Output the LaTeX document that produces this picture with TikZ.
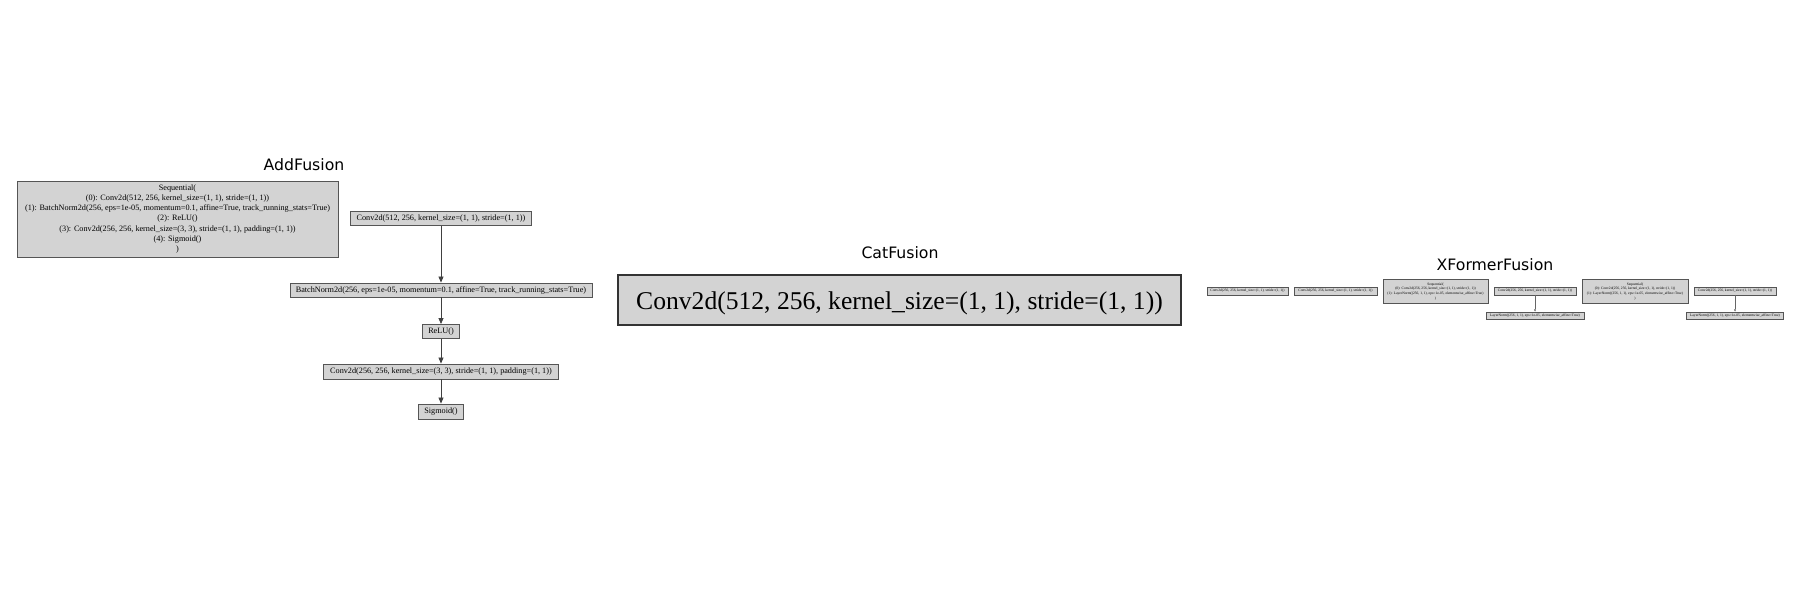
\documentclass[tikz,border=0pt]{standalone}
\usepackage{fontspec}
\setmainfont{Liberation Serif}
\newfontfamily\titlefont{DejaVu Sans}
\usetikzlibrary{arrows.meta}
\definecolor{boxfill}{HTML}{D3D3D3}
\definecolor{boxline}{HTML}{555555}
\tikzset{
  paneltitle/.style={font=\titlefont\fontsize{15.7}{18}\selectfont, inner sep=0pt},
  gbox/.style={draw=boxline, fill=boxfill, line width=0.9pt, inner sep=0pt, align=center,
    font=\fontsize{8.2}{10.2}\selectfont},
  bigbox/.style={draw=black!80, fill=boxfill, line width=2.6pt, inner sep=0pt,
    font=\fontsize{25.6}{30}\selectfont, text height=24pt, text depth=4.5pt},
  tinybox/.style={draw=boxline, fill=boxfill, line width=0.45pt, inner sep=0pt, align=center,
    font=\fontsize{3.6}{4.8}\selectfont},
  flow/.style={draw=black!75, line width=0.8pt, -{Triangle[length=6pt,width=5pt]}},
  tinyflow/.style={draw=black!60, line width=0.35pt, -{Triangle[length=2.2pt,width=2pt]}}
}
\begin{document}
\begin{tikzpicture}[x=1pt,y=-1pt]
\useasboundingbox (0,0) rectangle (1800,600);
% ---------- AddFusion ----------
\node[paneltitle] (t1) at (304,165) {AddFusion};
\node[gbox, minimum width=321pt, minimum height=76pt] (seq) at (177.5,219)
  {Sequential(\\
   (0): Conv2d(512, 256, kernel\_size=(1, 1), stride=(1, 1))\\
   (1): BatchNorm2d(256, eps=1e-05, momentum=0.1, affine=True, track\_running\_stats=True)\\
   (2): ReLU()\\
   (3): Conv2d(256, 256, kernel\_size=(3, 3), stride=(1, 1), padding=(1, 1))\\
   (4): Sigmoid()\\
   )};
\node[gbox, minimum width=181pt, minimum height=14pt] (c1) at (441,218.5)
  {Conv2d(512, 256, kernel\_size=(1, 1), stride=(1, 1))};
\node[gbox, minimum width=302pt, minimum height=14pt] (bn) at (441,290)
  {BatchNorm2d(256, eps=1e-05, momentum=0.1, affine=True, track\_running\_stats=True)};
\node[gbox, minimum width=37pt, minimum height=14pt] (relu) at (441,331.5) {ReLU()};
\node[gbox, minimum width=235pt, minimum height=15pt] (c2) at (441,371.5)
  {Conv2d(256, 256, kernel\_size=(3, 3), stride=(1, 1), padding=(1, 1))};
\node[gbox, minimum width=45pt, minimum height=15pt] (sig) at (441,411.5) {Sigmoid()};
\draw[flow] (c1) -- (bn);
\draw[flow] (bn) -- (relu);
\draw[flow] (relu) -- (c2);
\draw[flow] (c2) -- (sig);
% ---------- CatFusion ----------
\node[paneltitle] (t2) at (900,253) {CatFusion};
\node[bigbox, minimum width=563pt, minimum height=50pt] (cat) at (899.5,300)
  {Conv2d(512, 256, kernel\_size=(1, 1), stride=(1, 1))};
% ---------- XFormerFusion ----------
\node[paneltitle] (t3) at (1495,265) {XFormerFusion};
\node[tinybox, minimum width=81pt, minimum height=7.5pt] (x1) at (1247.5,291)
  {Conv2d(256, 256, kernel\_size=(1, 1), stride=(1, 1))};
\node[tinybox, minimum width=83pt, minimum height=7.5pt] (x2) at (1335.5,291)
  {Conv2d(256, 256, kernel\_size=(1, 1), stride=(1, 1))};
\node[tinybox, minimum width=105pt, minimum height=24pt] (s1) at (1435.5,291.5)
  {Sequential(\\
   (0): Conv2d(256, 256, kernel\_size=(1, 1), stride=(1, 1))\\
   (1): LayerNorm((256, 1, 1), eps=1e-05, elementwise\_affine=True)\\
   )};
\node[tinybox, minimum width=82pt, minimum height=7.5pt] (x3) at (1535,291)
  {Conv2d(256, 256, kernel\_size=(1, 1), stride=(1, 1))};
\node[tinybox, minimum width=98pt, minimum height=7.5pt] (l1) at (1535,315.5)
  {LayerNorm((256, 1, 1), eps=1e-05, elementwise\_affine=True)};
\node[tinybox, minimum width=106pt, minimum height=24pt] (s2) at (1635,291.5)
  {Sequential(\\
   (0): Conv2d(256, 256, kernel\_size=(1, 1), stride=(1, 1))\\
   (1): LayerNorm((256, 1, 1), eps=1e-05, elementwise\_affine=True)\\
   )};
\node[tinybox, minimum width=82pt, minimum height=7.5pt] (x4) at (1735,291)
  {Conv2d(256, 256, kernel\_size=(1, 1), stride=(1, 1))};
\node[tinybox, minimum width=97pt, minimum height=7.5pt] (l2) at (1735,315.5)
  {LayerNorm((256, 1, 1), eps=1e-05, elementwise\_affine=True)};
\draw[tinyflow] (x3) -- (l1);
\draw[tinyflow] (x4) -- (l2);
\end{tikzpicture}
\end{document}
